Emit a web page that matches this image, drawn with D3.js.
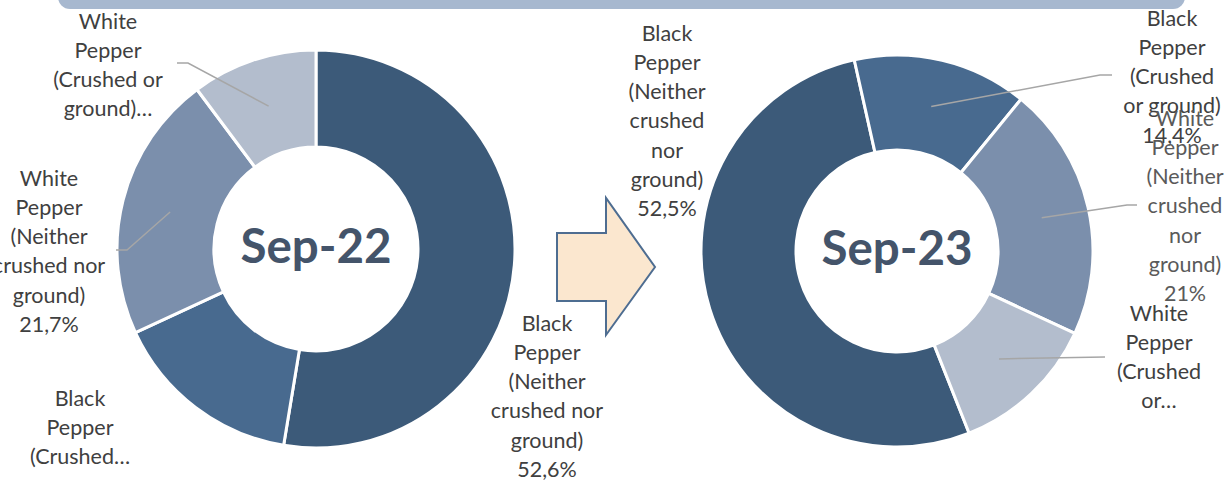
<!DOCTYPE html>
<html>
<head>
<meta charset="utf-8">
<script src="https://cdn.jsdelivr.net/npm/d3@7"></script>
<style>
  html, body { margin: 0; padding: 0; background: #ffffff; }
  svg { display: block; }
</style>
</head>
<body>
<svg id="chart" width="1229" height="481"></svg>
<script>
// ---------- data ----------
const categories = [
  "Black Pepper (Neither crushed nor ground)",
  "Black Pepper (Crushed or ground)",
  "White Pepper (Neither crushed nor ground)",
  "White Pepper (Crushed or ground)"
];
const sep22Values = [52.6, 15.5, 21.7, 10.2];
const sep23Values = [52.5, 14.4, 21.0, 12.1];
const periods = ["Sep-22", "Sep-23"];
const sep22Labels = [
  ["Black", "Pepper", "(Neither", "crushed nor", "ground)", "52,6%"],
  ["Black", "Pepper", "(Crushed…"],
  ["White", "Pepper", "(Neither", "crushed nor", "ground)", "21,7%"],
  ["White", "Pepper", "(Crushed or", "ground)…"]
];
const sep23Labels = [
  ["Black", "Pepper", "(Neither", "crushed", "nor", "ground)", "52,5%"],
  ["Black", "Pepper", "(Crushed", "or ground)", "14,4%"],
  ["White", "Pepper", "(Neither", "crushed", "nor", "ground)", "21%"],
  ["White", "Pepper", "(Crushed", "or…"]
];
const sliceColors = ["#3C5A79", "#486A8F", "#7B8FAC", "#B3BDCD"];

// ---------- layout ----------
const svg = d3.select("#chart");

const donuts = [
  { values: sep22Values, labels: sep22Labels, title: periods[0],
    cx: 316, cy: 249, r: 199, ri: 102, start: 0,
    labelPos: [[547, 323], [80, 398], [49, 178], [108, 21]],
    leader: [null, null, [[116, 250], [127, 250]], [[177, 63], [188, 63]]],
    labelColor: ["#404040", "#404040", "#404040", "#404040"] },
  { values: sep23Values, labels: sep23Labels, title: periods[1],
    cx: 897, cy: 251, r: 196, ri: 101, start: 158.4,
    labelPos: [[667, 33], [1172, 18], [1185, 118], [1159, 313]],
    leader: [null, [[1112, 75], [1100, 75]], [[1137, 205], [1127, 205]], [[1105, 357], [1105, 357]]],
    labelColor: ["#404040", "#404040", "#5A5A5A", "#404040"] }
];

// top banner
svg.append("rect")
  .attr("x", 58).attr("y", -20).attr("width", 1127).attr("height", 29)
  .attr("rx", 12).attr("ry", 12)
  .attr("fill", "#A7B8CF");

// arrow
const arrowPts = [[557, 233], [606, 233], [606, 198], [655, 267], [606, 335], [606, 301], [557, 301]];
svg.append("path")
  .attr("d", d3.line()(arrowPts) + "Z")
  .attr("fill", "#FBE7CF")
  .attr("stroke", "#4E6D91")
  .attr("stroke-width", 2)
  .attr("stroke-linejoin", "miter");

const LABEL_FONT = "Lato, 'Open Sans', sans-serif";
const LINE_H = 29.3;

donuts.forEach(d => {
  const pie = d3.pie().sort(null).value(v => v)
    .startAngle(d.start * Math.PI / 180)
    .endAngle(d.start * Math.PI / 180 + 2 * Math.PI);
  const arcs = pie(d.values);
  const arc = d3.arc().innerRadius(d.ri).outerRadius(d.r);
  const mid = d3.arc().innerRadius((d.ri + d.r) / 2).outerRadius((d.ri + d.r) / 2);

  const g = svg.append("g").attr("transform", `translate(${d.cx},${d.cy})`);
  g.selectAll("path.slice").data(arcs).join("path")
    .attr("class", "slice")
    .attr("d", arc)
    .attr("fill", (a, i) => sliceColors[i])
    .attr("stroke", "#ffffff")
    .attr("stroke-width", 3)
    .attr("stroke-linejoin", "round");

  // leader lines
  arcs.forEach((a, i) => {
    const ld = d.leader[i];
    if (!ld) return;
    const c = mid.centroid(a);
    const pts = ld.map(p => [p[0] - d.cx, p[1] - d.cy]);
    pts.push(c);
    g.append("path")
      .attr("d", d3.line()(pts))
      .attr("fill", "none")
      .attr("stroke", "#A6A6A6")
      .attr("stroke-width", 1.5);
  });

  // center title
  svg.append("text")
    .attr("x", d.cx).attr("y", d.cy + 14)
    .attr("text-anchor", "middle")
    .attr("font-family", "Lato, 'Open Sans', sans-serif")
    .attr("font-weight", "bold")
    .attr("font-size", 47.5)
    .attr("fill", "#44546A")
    .text(d.title);

  // data labels
  d.labels.forEach((lines, i) => {
    const [lx, ly] = d.labelPos[i];
    const t = svg.append("text")
      .attr("text-anchor", "middle")
      .attr("font-family", LABEL_FONT)
      .attr("font-size", 21.5)
      .attr("fill", d.labelColor[i]);
    lines.forEach((ln, k) => {
      t.append("tspan").attr("x", lx).attr("y", ly + k * LINE_H + 7.5).text(ln);
    });
  });
});
</script>
</body>
</html>
